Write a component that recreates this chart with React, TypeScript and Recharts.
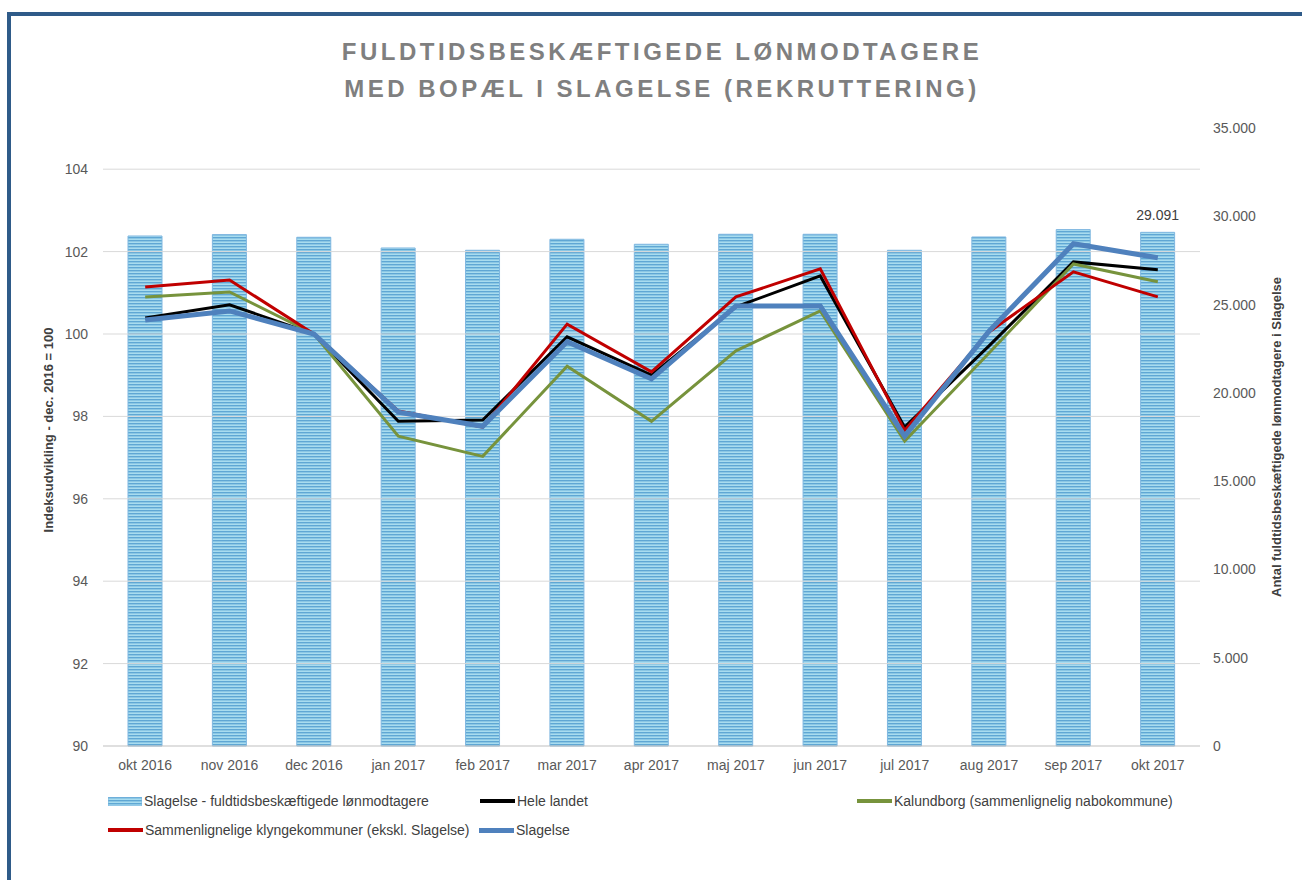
import {
  Bar,
  ComposedChart,
  LabelList,
  Line,
  ReferenceLine,
  XAxis,
  YAxis,
} from "recharts";

const months = [
  "okt 2016", "nov 2016", "dec 2016", "jan 2017", "feb 2017", "mar 2017", "apr 2017",
  "maj 2017", "jun 2017", "jul 2017", "aug 2017", "sep 2017", "okt 2017",
];

// antal fuldtidsbeskæftigede (højre akse)
const employed = [28884, 28963, 28811, 28205, 28075, 28698, 28415, 28981, 28981, 28075, 28828, 29246, 29091];

// indeks, dec. 2016 = 100 (venstre akse)
const heleLandet = [100.39, 100.71, 100, 97.88, 97.91, 99.93, 99.0, 100.66, 101.41, 97.74, 99.71, 101.75, 101.56];
const kalundborg = [100.9, 101.02, 100, 97.52, 97.03, 99.22, 97.88, 99.59, 100.56, 97.4, 99.54, 101.7, 101.27];
const klynge = [101.14, 101.31, 100, 98.13, 97.74, 100.24, 99.08, 100.9, 101.58, 97.66, 100.05, 101.51, 100.9];
const slagelse = [100.34, 100.56, 100, 98.1, 97.76, 99.81, 98.91, 100.68, 100.68, 97.52, 100.07, 102.19, 101.85];

const leftTicks = [90, 92, 94, 96, 98, 100, 102, 104];
const gridValues = [92, 94, 96, 98, 100, 102, 104];
const rightTicks = [0, 5000, 10000, 15000, 20000, 25000, 30000, 35000];

const data = months.map((month, i) => ({
  month,
  employed: employed[i],
  heleLandet: heleLandet[i],
  kalundborg: kalundborg[i],
  klynge: klynge[i],
  slagelse: slagelse[i],
}));

const thousands = (v: number) => String(v).replace(/\B(?=(\d{3})+(?!\d))/g, ".");

const FONT = "'Liberation Sans', Arial, sans-serif";
const tickStyle = { fontSize: 14, fill: "#595959", fontFamily: FONT };

function LastBarLabel(props: any) {
  const { x, y, width, index } = props;
  if (index !== employed.length - 1) return null;
  return (
    <text
      x={x + width / 2}
      y={y - 12}
      textAnchor="middle"
      fontSize={14}
      fill="#404040"
      fontFamily={FONT}
    >
      {thousands(employed[index])}
    </text>
  );
}

const legendItems = [
  { label: "Slagelse - fuldtidsbeskæftigede lønmodtagere", kind: "bar", color: "", x: 108, y: 801 },
  { label: "Hele landet", kind: "line", color: "#000000", x: 480, y: 801 },
  { label: "Kalundborg (sammenlignelig nabokommune)", kind: "line", color: "#77933c", x: 857, y: 801 },
  { label: "Sammenlignelige klyngekommuner (ekskl. Slagelse)", kind: "line", color: "#c00000", x: 108, y: 830 },
  { label: "Slagelse", kind: "line", color: "#4f81bd", x: 479, y: 830 },
];

function StripeSwatch() {
  return (
    <svg width={34} height={9} style={{ display: "block" }}>
      <rect x={0} y={0} width={34} height={9} fill="url(#legendStripes)" stroke="#7fb7e0" />
    </svg>
  );
}

export default function App() {
  return (
    <div
      style={{
        position: "absolute",
        left: 0,
        top: 0,
        width: 1302,
        height: 880,
        background: "#ffffff",
        fontFamily: FONT,
        overflow: "hidden",
      }}
    >
      <svg width={0} height={0} style={{ position: "absolute" }}>
        <defs>
          <pattern id="legendStripes" width={4} height={3} patternUnits="userSpaceOnUse">
            <rect width={4} height={3} fill="#a8dcef" />
            <rect width={4} height={1.4} fill="#5fa7d4" />
          </pattern>
        </defs>
      </svg>

      {/* ramme */}
      <div style={{ position: "absolute", left: 7, top: 12, width: 1295, height: 4, background: "#2f5b89" }} />
      <div style={{ position: "absolute", left: 7, top: 12, width: 4, height: 868, background: "#2f5b89" }} />

      <div
        style={{
          position: "absolute",
          left: 662,
          top: 33,
          transform: "translateX(-50%)",
          whiteSpace: "nowrap",
          textAlign: "center",
          color: "#7f7f7f",
          fontWeight: "bold",
          fontSize: 24,
          letterSpacing: 3.5,
          lineHeight: "37px",
        }}
      >
        FULDTIDSBESKÆFTIGEDE LØNMODTAGERE
        <br />
        MED BOPÆL I SLAGELSE (REKRUTTERING)
      </div>

      <div style={{ position: "absolute", left: 0, top: 0 }}>
        <ComposedChart
          width={1302}
          height={880}
          data={data}
          margin={{ top: 128, right: 0, bottom: 94, left: 0 }}
        >
          <defs>
            <pattern id="barStripes" width={4} height={3} patternUnits="userSpaceOnUse">
              <rect width={4} height={3} fill="#a8dcef" />
              <rect width={4} height={1.4} fill="#5fa7d4" />
            </pattern>
          </defs>
          {gridValues.map((v) => (
            <ReferenceLine key={v} yAxisId="left" y={v} stroke="#d9d9d9" strokeWidth={1} />
          ))}
          <ReferenceLine yAxisId="left" y={90} stroke="#bfbfbf" strokeWidth={1} />
          <XAxis
            dataKey="month"
            tick={tickStyle}
            tickLine={false}
            tickSize={0}
            tickMargin={14}
            height={40}
            axisLine={false}
          />
          <YAxis
            yAxisId="left"
            domain={[90, 105]}
            ticks={leftTicks}
            tick={tickStyle}
            width={103}
            axisLine={false}
            tickLine={false}
            tickSize={0}
            tickMargin={15}
          />
          <YAxis
            yAxisId="right"
            orientation="right"
            domain={[0, 35000]}
            ticks={rightTicks}
            tickFormatter={thousands}
            tick={tickStyle}
            width={102}
            axisLine={false}
            tickLine={false}
            tickSize={0}
            tickMargin={13}
          />
          <Bar
            yAxisId="right"
            dataKey="employed"
            fill="url(#barStripes)"
            stroke="#7fb7e0"
            strokeWidth={1}
            barSize={34}
            isAnimationActive={false}
          >
            <LabelList dataKey="employed" content={LastBarLabel} />
          </Bar>
          <Line yAxisId="left" type="linear" dataKey="heleLandet" stroke="#000000" strokeWidth={3} dot={false} isAnimationActive={false} />
          <Line yAxisId="left" type="linear" dataKey="kalundborg" stroke="#77933c" strokeWidth={3} dot={false} isAnimationActive={false} />
          <Line yAxisId="left" type="linear" dataKey="klynge" stroke="#c00000" strokeWidth={3} dot={false} isAnimationActive={false} />
          <Line yAxisId="left" type="linear" dataKey="slagelse" stroke="#4f81bd" strokeWidth={5} dot={false} isAnimationActive={false} />
        </ComposedChart>
      </div>

      {/* aksetitler */}
      <div
        style={{
          position: "absolute",
          left: 48,
          top: 430,
          transform: "translate(-50%, -50%) rotate(-90deg)",
          whiteSpace: "nowrap",
          fontWeight: "bold",
          fontSize: 13,
          color: "#404040",
        }}
      >
        Indeksudvikling - dec. 2016 = 100
      </div>
      <div
        style={{
          position: "absolute",
          left: 1276,
          top: 437,
          transform: "translate(-50%, -50%) rotate(-90deg)",
          whiteSpace: "nowrap",
          fontWeight: "bold",
          fontSize: 13,
          color: "#404040",
        }}
      >
        Antal fuldtidsbeskæftigede lønmodtagere i Slagelse
      </div>

      {/* signatur */}
      {legendItems.map((item) => (
        <div
          key={item.label}
          style={{
            position: "absolute",
            left: item.x,
            top: item.y - 9,
            height: 18,
            display: "flex",
            alignItems: "center",
            gap: 2,
            fontSize: 14,
            color: "#404040",
            whiteSpace: "nowrap",
          }}
        >
          {item.kind === "bar" ? (
            <StripeSwatch />
          ) : (
            <div style={{ width: 35, height: item.color === "#4f81bd" ? 5 : 4, background: item.color }} />
          )}
          <span>{item.label}</span>
        </div>
      ))}
    </div>
  );
}
